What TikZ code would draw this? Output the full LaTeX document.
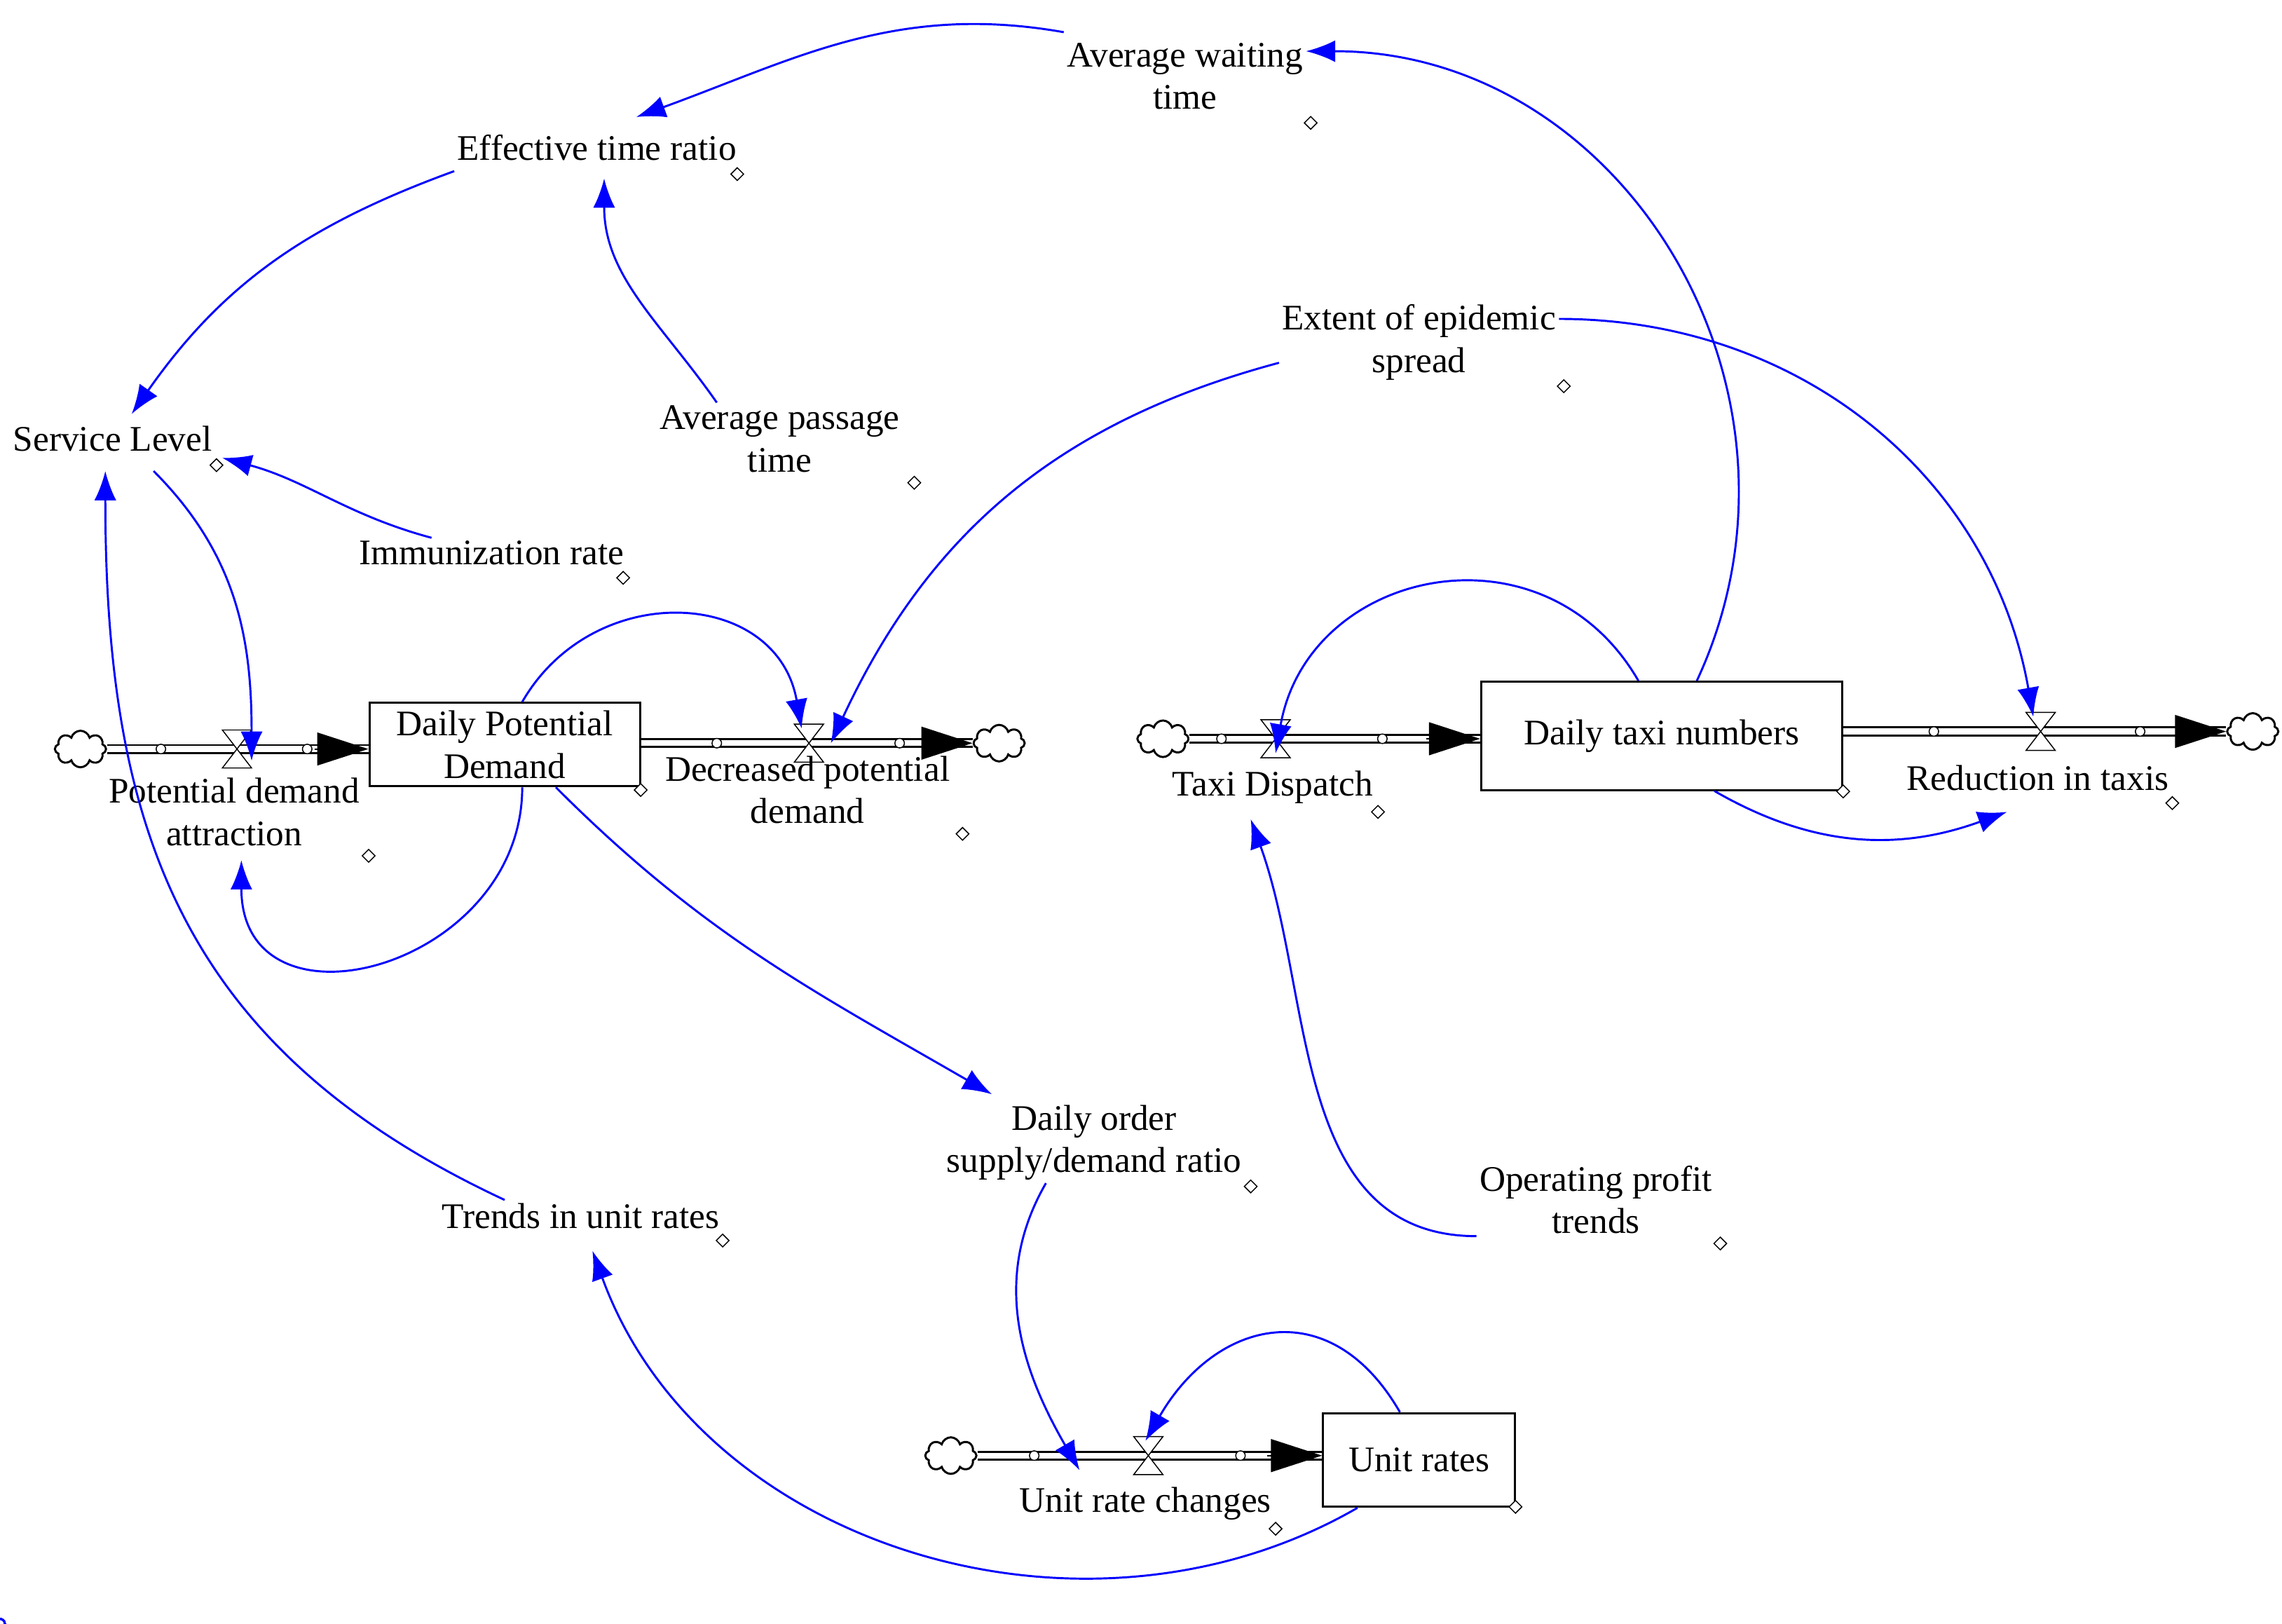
\documentclass[tikz,border=0pt]{standalone}
\usepackage{fontspec}
\setmainfont{Liberation Serif}
\usetikzlibrary{shapes.symbols,shapes.geometric,arrows.meta}
\begin{document}
\begin{tikzpicture}[x=0.02cm,y=0.02cm,
  lab/.style={font=\fontsize{14}{16.5}\selectfont,align=center,inner sep=1pt},
  stock/.style={draw,thick,lab,minimum height=#1},
  cl/.style={cloud,cloud puffs=8,draw,thick,minimum width=0.7cm,minimum height=0.5cm,inner sep=0pt},
  lnk/.style={blue,thick,-{Latex[length=0.4cm,width=0.3cm]}},
  mk/.style={circle,draw=blue,fill=white,inner sep=0pt,minimum size=0.13cm},
  dm/.style={diamond,draw,fill=white,inner sep=0pt,minimum size=0.18cm},
  pipe/.style={double distance=0.08cm,thick},
  tip/.style={-{Triangle[length=0.7cm,width=0.45cm]},line width=0.5pt}]
\useasboundingbox (0,0) rectangle (1560,1110);
% stocks
\node[stock=1.14cm,minimum width=3.7cm] (dpd) at (345,601) {Daily Potential\\Demand};
\node[stock=1.48cm,minimum width=4.94cm] (dtn) at (1136,607) {Daily taxi numbers};
\node[stock=1.28cm,minimum width=2.62cm] (ur) at (970,112) {Unit rates};
% clouds
\node[cl] (c1) at (55,598) {};
\node[cl] (c2) at (683,602) {};
\node[cl] (c3) at (795,605) {};
\node[cl] (c4) at (1540,610) {};
\node[cl] (c5) at (650,115) {};
% pipes
\draw[pipe] (c1.east) -- (dpd.west|-c1);
\draw[tip] (215,598) -- (dpd.west|-c1);
\draw[pipe] (dpd.east|-c2) -- (c2.west);
\draw[tip] (630,602) -- (c2.west);
\draw[pipe] (c3.east) -- (dtn.west|-c3);
\draw[tip] (975,605) -- (dtn.west|-c3);
\draw[pipe] (dtn.east|-c4) -- (c4.west);
\draw[tip] (1487,610) -- (c4.west);
\draw[pipe] (c5.east) -- (ur.west|-c5);
\draw[tip] (866,115) -- (ur.west|-c5);
% valves
\foreach \n/\x/\y in {v1/162/598,v2/553/602,v3/872/605,v4/1395/610,v5/785/115}{
  \coordinate (\n) at (\x,\y);
  \draw[fill=white] (\x-10,\y+13) -- (\x+10,\y+13) -- (\x-10,\y-13) -- (\x+10,\y-13) -- cycle;}
% flow labels
\node[lab] (pda) at (160,555) {Potential demand\\attraction};
\node[lab] (dec) at (552,570) {Decreased potential\\demand};
\node[lab] (td) at (870,572) {Taxi Dispatch};
\node[lab] (rt) at (1393,578) {Reduction in taxis};
\node[lab] (urc) at (783,82) {Unit rate changes};
% auxiliaries
\node[lab] (awt) at (810,1058) {Average waiting\\time};
\node[lab] (etr) at (408,1009) {Effective time ratio};
\node[lab] (ees) at (970,876) {Extent of epidemic\\spread};
\node[lab] (sl) at (77,810) {Service Level};
\node[lab] (apt) at (533,810) {Average passage\\time};
\node[lab] (ir) at (336,732) {Immunization rate};
\node[lab] (dor) at (748,329) {Daily order\\supply/demand ratio};
\node[lab] (tur) at (397,279) {Trends in unit rates};
\node[lab] (opt) at (1091,290) {Operating profit\\trends};
% diamonds
\foreach \x/\y [count=\i] in {504/991,896/1026,1069/846,148/792,625/780,426/715,252/525,438/570,658/540,942/555,1260/569,1485/561,855/299,494/262,1176/260,872/65,1036/80}
  \node[dm] (d\i) at (\x,\y) {};
% pipe markers
\foreach \x/\y [count=\i] in {110/598,210/598,490/602,615/602,835/605,945/605,1322/610,1463/610,707/115,848/115}
  \node[circle,draw,fill=white,inner sep=0pt,minimum size=0.13cm] (p\i) at (\x,\y) {};
% links
\draw[lnk] (dtn.north-|1160,0) to[out=65,in=0,looseness=1.1] (awt.east|-0,1075) node[pos=0.45,mk]{};
\draw[lnk] (awt.west|-0,1088) to[out=170,in=20] (435,1030) node[pos=0.5,mk]{};
\draw[lnk] (etr.west|-0,993) to[out=200,in=55] (90,827) node[pos=0.45,mk]{};
\draw[lnk] (apt.north-|490,0) to[out=125,in=270] (413,988) node[pos=0.5,mk]{};
\draw[lnk] (ir.north-|295,0) to[out=165,in=-15] (152,797);
\draw[lnk] (105,788) to[out=-45,in=90] (172,590) node[pos=0.5,mk]{};
\draw[lnk] (tur.north-|345,0) to[out=155,in=-90,looseness=1.1] (72,788) node[pos=0.4,mk]{};
\draw[lnk] (ees.west|-0,862) to[out=195,in=65] (568,602) node[pos=0.45,mk]{};
\draw[lnk] (ees.east|-0,892) to[out=0,in=100] (1390,620) node[pos=0.45,mk]{};
\draw[lnk] (dpd.north-|357,0) to[out=60,in=100,looseness=1.3] (548,612) node[pos=0.6,mk]{};
\draw[lnk] (dpd.south-|357,0) to[out=-90,in=-90,looseness=1.6] (165,522) node[pos=0.3,mk]{};
\draw[lnk] (dpd.south-|380,0) to[out=-45,in=150] (678,362) node[pos=0.55,mk]{};
\draw[lnk] (dor.south-|715,0) to[out=240,in=120] (738,105) node[pos=0.85,mk]{};
\draw[lnk] (ur.north-|957,0) to[out=120,in=60,looseness=1.4] (783,125) node[pos=0.3,mk]{};
\draw[lnk] (ur.south-|928,0) to[out=-150,in=-70] (405,255) node[pos=0.35,mk]{};
\draw[lnk] (opt.west|-0,265) to[out=180,in=-70] (855,550) node[pos=0.55,mk]{};
\draw[lnk] (dtn.north-|1120,0) to[out=120,in=80,looseness=1.3] (872,595) node[pos=0.5,mk]{};
\draw[lnk] (dtn.south-|1172,0) to[out=-30,in=200] (1372,555) node[pos=0.6,mk]{};
\end{tikzpicture}
\end{document}
